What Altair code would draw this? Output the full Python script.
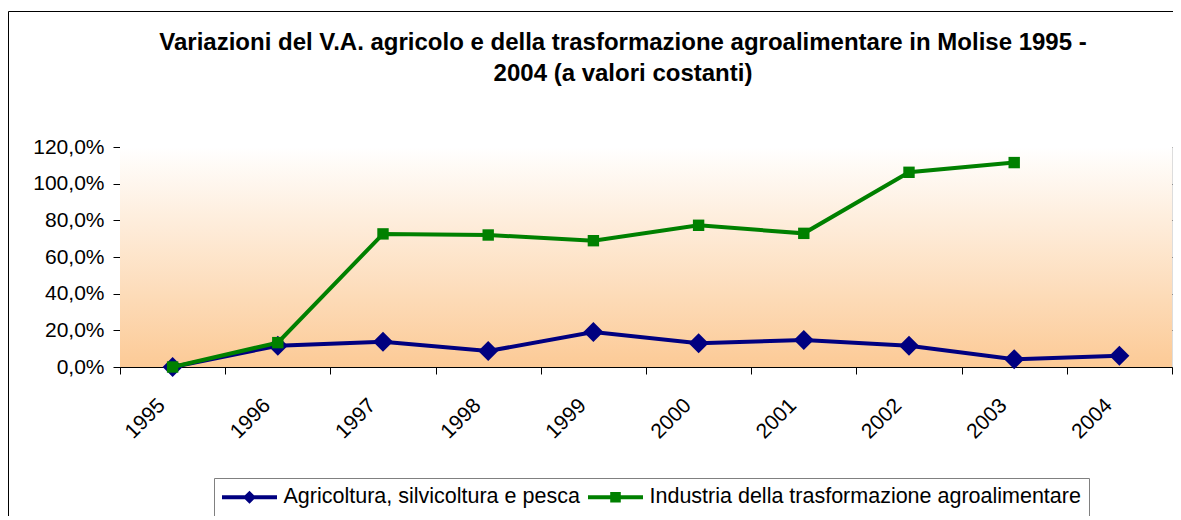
import altair as alt
import pandas as pd

# ---------------- data ----------------
anni = ["1995", "1996", "1997", "1998", "1999", "2000", "2001", "2002", "2003", "2004"]
serie = ["Agricoltura, silvicoltura e pesca", "Industria della trasformazione agroalimentare"]
agricoltura = [0.000, 0.116, 0.138, 0.087, 0.191, 0.129, 0.147, 0.116, 0.042, 0.062]
industria = [0.000, 0.133, 0.726, 0.720, 0.689, 0.773, 0.729, 1.062, 1.115, None]
colori = ["#000080", "#008000"]
y_ticks = [0.0, 0.2, 0.4, 0.6, 0.8, 1.0, 1.2]
titolo = [
    "Variazioni del V.A. agricolo e della trasformazione agroalimentare in Molise 1995 -",
    "2004 (a valori costanti)",
]

rows = []
for a, v in zip(anni, agricoltura):
    rows.append({"anno": a, "serie": serie[0], "valore": v})
for a, v in zip(anni, industria):
    if v is not None:
        rows.append({"anno": a, "serie": serie[1], "valore": v})
df = pd.DataFrame(rows)

FONT = "Liberation Sans"
W, H = 1052, 220

# legend symbols: line segment with marker (unit = sqrt(size)/2)
sym_a = "M-2.5,-0.18L2.5,-0.18L2.5,0.18L-2.5,0.18Z M0,-0.6L0.6,0L0,0.6L-0.6,0Z"
sym_i = "M-2.5,-0.18L2.5,-0.18L2.5,0.18L-2.5,0.18Z M-0.48,-0.48L0.48,-0.48L0.48,0.48L-0.48,0.48Z"

x_enc = alt.X(
    "anno:N",
    sort=anni,
    bandPosition=0.5,
    scale=alt.Scale(type="band", domain=anni, paddingInner=0, paddingOuter=0),
    axis=alt.Axis(
        title=None, labelAngle=315, labelAlign="right", labelBaseline="middle",
        labelFont=FONT, labelFontSize=21, labelColor="black",
        labelPadding=28, labelOffset=-11, tickBand="extent", tickSize=7,
        tickColor="black", domainColor="black", grid=False,
    ),
)
y_enc = alt.Y(
    "valore:Q",
    scale=alt.Scale(domain=[0, 1.2], nice=False, zero=True),
    axis=alt.Axis(
        title=None, values=y_ticks,
        labelExpr="replace(format(datum.value, '.1%'), '.', ',')",
        labelFont=FONT, labelFontSize=21, labelColor="black", labelPadding=9,
        tickSize=7, tickColor="black", domainColor="black",
        grid=True, gridWidth=1,
        gridColor={"condition": {"test": "datum.value >= 1.2", "value": "#888888"}, "value": "#3c3c3c"},
    ),
)

base = alt.Chart(df).encode(x=x_enc, y=y_enc)

gradient = alt.LinearGradient(
    gradient="linear", x1=0, y1=0, x2=0, y2=1,
    stops=[alt.GradientStop(color="#FFFFFF", offset=0),
           alt.GradientStop(color="#FCCA96", offset=1)],
)
one = alt.Data(values=[{"k": 1}])
bg = alt.Chart(one).mark_rect(fill=gradient).encode(
    x=alt.value(0), x2=alt.value(W), y=alt.value(0), y2=alt.value(H)
)
frame_left = alt.Chart(one).mark_rule(color="black", strokeWidth=1).encode(
    x=alt.value(-111.5), y=alt.value(-135.5), y2=alt.value(H + 200)
)
frame_top = alt.Chart(one).mark_rule(color="black", strokeWidth=1).encode(
    x=alt.value(-111.5), x2=alt.value(W + 1), y=alt.value(-135.5)
)

line_a = base.transform_filter(alt.datum.serie == serie[0]).mark_line(color=colori[0], strokeWidth=4)
pts_a = base.transform_filter(alt.datum.serie == serie[0]).mark_point(
    shape="diamond", filled=True, size=400, color=colori[0], opacity=1)
line_i = base.transform_filter(alt.datum.serie == serie[1]).mark_line(color=colori[1], strokeWidth=4)
pts_i = base.transform_filter(alt.datum.serie == serie[1]).mark_point(
    shape="square", filled=True, size=130, color=colori[1], opacity=1)

leg = alt.Legend(
    title=None, orient="none", legendX=94, legendY=331, direction="horizontal",
    fillColor="white", strokeColor="#808080", padding=8,
    labelFont=FONT, labelFontSize=21.5, labelColor="black", labelLimit=800,
    symbolSize=484, symbolStrokeWidth=0, symbolOffset=16.5, labelOffset=23,
    columnPadding=8,
)
legend_layer = base.transform_filter("datum.valore < -1").mark_point(filled=True, opacity=1).encode(
    color=alt.Color("serie:N", scale=alt.Scale(domain=serie, range=colori), legend=leg),
    shape=alt.Shape("serie:N", scale=alt.Scale(domain=serie, range=[sym_a, sym_i]), legend=leg),
)

chart = alt.layer(bg, frame_left, frame_top, line_a, pts_a, line_i, pts_i, legend_layer).properties(
    width=W, height=H,
    padding={"left": 112, "top": 139, "right": 1, "bottom": 149},
    autosize=alt.AutoSizeParams(type="none"),
    title=alt.TitleParams(
        text=titolo, font=FONT, fontSize=24, fontWeight="bold", color="black",
        anchor="middle", frame="group", lineHeight=31, offset=0, dx=-23, dy=75,
    ),
).configure_view(stroke="#888888", strokeWidth=1).configure(background="white")

chart.save("out.html", embed_options={"renderer": "svg", "actions": False})
